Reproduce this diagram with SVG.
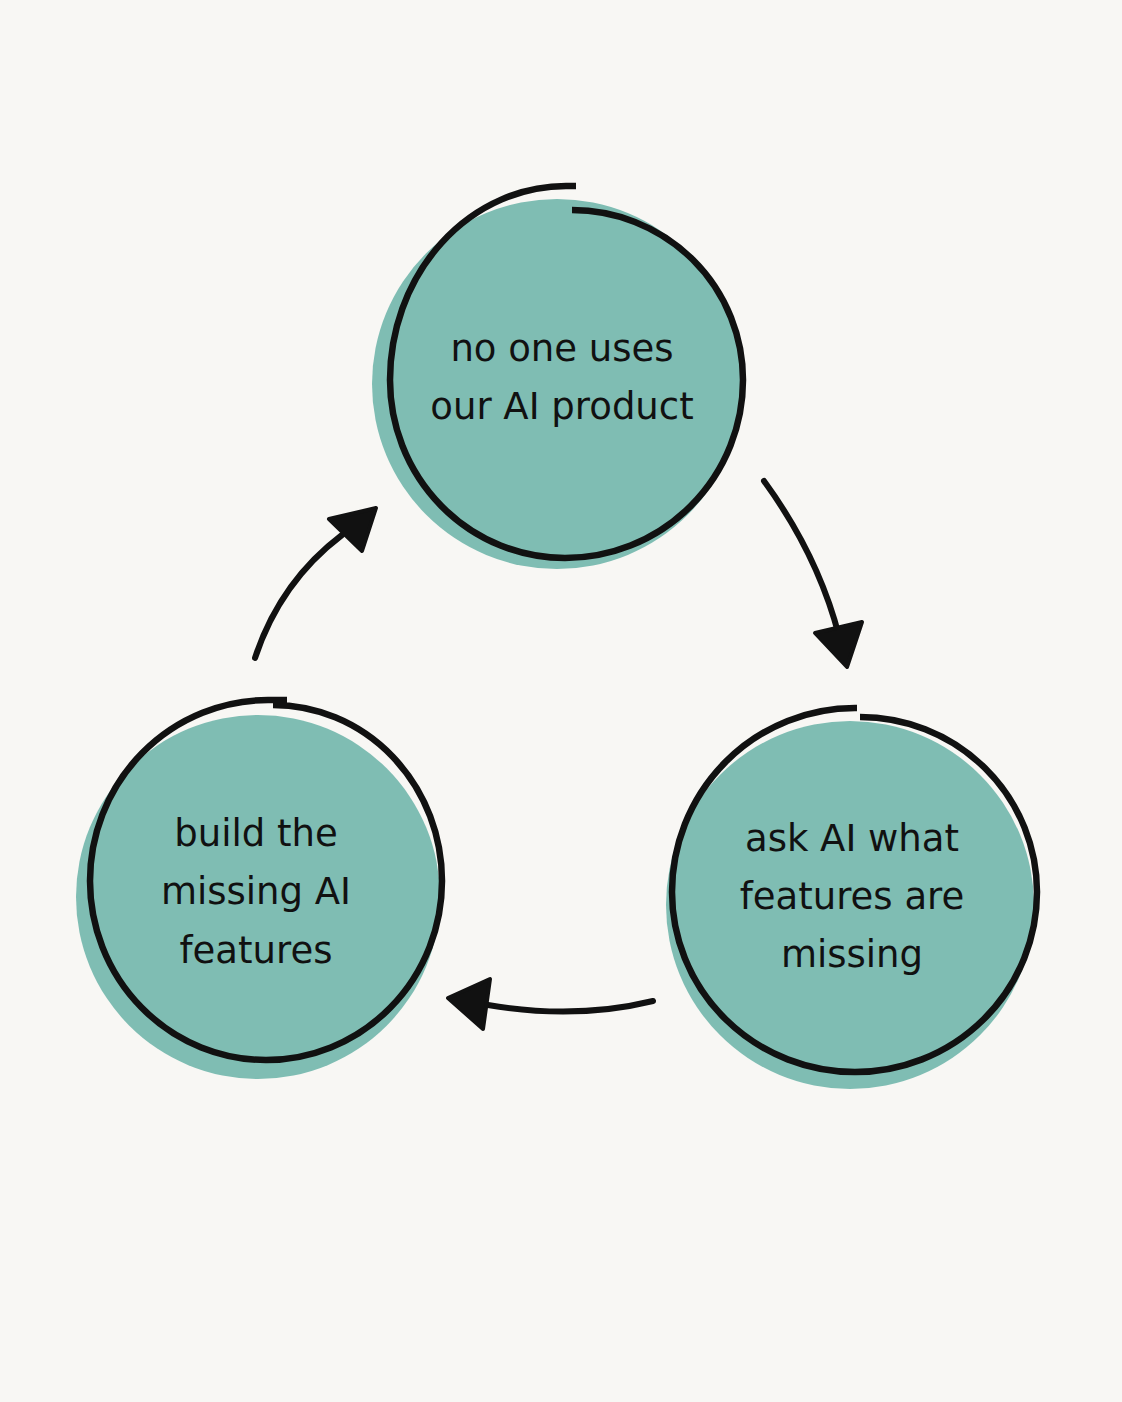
<svg xmlns="http://www.w3.org/2000/svg" width="1122" height="1402" viewBox="0 0 1122 1402">
<style>
.fill{fill:#7fbdb3}
.ring{fill:none;stroke:#111;stroke-width:6.5;stroke-linecap:butt}
.lbl{font-family:"DejaVu Sans","Noto Sans",sans-serif;font-size:37px;fill:#111;text-anchor:middle}
.arrow{fill:none;stroke:#111;stroke-width:6;stroke-linecap:round}
.head{fill:#111;stroke:#111;stroke-width:4;stroke-linejoin:round}
</style>
<rect width="1122" height="1402" fill="#f8f7f4"/>
<g id="node-top">
<circle class="fill" cx="557" cy="384" r="185"/>
<path class="ring" d="M576,186 L566,186 A176,194 0 0 0 390,380 A175,178 0 0 0 565,558 A178,178 0 0 0 743,380 A171,170 0 0 0 572,210"/>
<text class="lbl" x="562" y="361">no one uses</text>
<text class="lbl" x="562" y="419">our AI product</text>
</g>
<g id="node-right">
<circle class="fill" cx="850" cy="905" r="184"/>
<path class="ring" d="M857,708 L855,708 A183,184 0 0 0 672,892 A183,180 0 0 0 855,1072 A182,180 0 0 0 1037,892 A177,175 0 0 0 860,717"/>
<text class="lbl" x="852" y="851">ask AI what</text>
<text class="lbl" x="852" y="909">features are</text>
<text class="lbl" x="852" y="967">missing</text>
</g>
<g id="node-left">
<circle class="fill" cx="258" cy="897" r="182"/>
<path class="ring" d="M287,700 L268,700 A178,181 0 0 0 90,881 A176,179 0 0 0 266,1060 A176,179 0 0 0 442,881 A169,176 0 0 0 273,705"/>
<text class="lbl" x="256" y="846">build the</text>
<text class="lbl" x="256" y="904">missing AI</text>
<text class="lbl" x="256" y="963">features</text>
</g>
<g id="connectors">
<path class="arrow" d="M764,481 Q818,555 839,636"/>
<polygon class="head" points="815,633 862,622 847,667"/>
<path class="arrow" d="M653,1001 Q575,1020 488,1005"/>
<polygon class="head" points="448,998 490,979 483,1029"/>
<path class="arrow" d="M255,658 Q280,582 342,535"/>
<polygon class="head" points="329,519 376,508 362,551"/>
</g>
</svg>
